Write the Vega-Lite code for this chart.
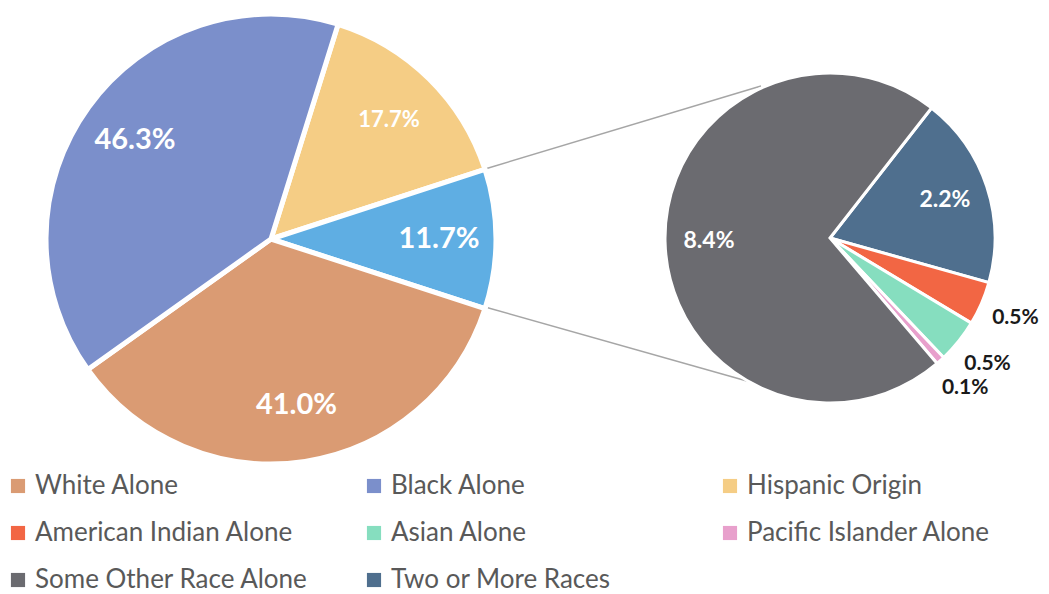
{
  "$schema": "https://vega.github.io/schema/vega-lite/v6.json",
  "width": 1049,
  "height": 594,
  "autosize": {"type": "none"},
  "padding": 0,
  "background": "white",
  "config": {"view": {"stroke": null}},
  "datasets": {
    "main": [
      {"cat": "Hispanic Origin", "v": 17.7, "label": "17.7%", "o": 1},
      {"cat": "Other Races", "v": 11.7, "label": "11.7%", "o": 2},
      {"cat": "White Alone", "v": 41.0, "label": "41.0%", "o": 3},
      {"cat": "Black Alone", "v": 46.3, "label": "46.3%", "o": 4}
    ],
    "detail": [
      {"cat": "Two or More Races", "v": 2.2, "label": "2.2%", "o": 1},
      {"cat": "American Indian Alone", "v": 0.5, "label": "0.5%", "o": 2},
      {"cat": "Asian Alone", "v": 0.5, "label": "0.5%", "o": 3},
      {"cat": "Pacific Islander Alone", "v": 0.1, "label": "0.1%", "o": 4},
      {"cat": "Some Other Race Alone", "v": 8.4, "label": "8.4%", "o": 5}
    ]
  },
  "layer": [
    {
      "data": {"values": [{"line": "top"}]},
      "mark": {"type": "rule", "color": "#A6A6A6", "strokeWidth": 1.5},
      "encoding": {
        "x": {"value": 485}, "y": {"value": 169},
        "x2": {"value": 761}, "y2": {"value": 86}
      }
    },
    {
      "data": {"values": [{"line": "bottom"}]},
      "mark": {"type": "rule", "color": "#A6A6A6", "strokeWidth": 1.5},
      "encoding": {
        "x": {"value": 485}, "y": {"value": 307},
        "x2": {"value": 761}, "y2": {"value": 385}
      }
    },
    {
      "data": {"name": "main"},
      "encoding": {
        "theta": {"field": "v", "type": "quantitative", "stack": true, "scale": {"range": [0.303, 6.586]}},
        "order": {"field": "o", "type": "quantitative"}
      },
      "layer": [
        {
          "mark": {"type": "arc", "outerRadius": 225, "x": 271, "y": 239, "stroke": "white", "strokeWidth": 5},
          "encoding": {
            "color": {
              "field": "cat", "type": "nominal", "legend": null,
              "scale": {
                "domain": ["Hispanic Origin", "Other Races", "White Alone", "Black Alone"],
                "range": ["#F5CD85", "#5FAEE3", "#DA9B73", "#7B8FCB"]
              }
            }
          }
        },
        {
          "mark": {"type": "text", "radius": 168, "x": 271, "y": 239, "font": "Lato", "fontWeight": "bold", "color": "white", "align": "center", "baseline": "middle"},
          "encoding": {
            "text": {"field": "label", "type": "nominal"},
            "size": {"condition": {"test": "datum.cat === 'Hispanic Origin'", "value": 22}, "value": 29}
          }
        }
      ]
    },
    {
      "data": {"name": "detail"},
      "encoding": {
        "theta": {"field": "v", "type": "quantitative", "stack": true, "scale": {"range": [0.663, 6.946]}},
        "order": {"field": "o", "type": "quantitative"}
      },
      "layer": [
        {
          "mark": {"type": "arc", "outerRadius": 165, "x": 830, "y": 238, "stroke": "white", "strokeWidth": 3},
          "encoding": {
            "color": {
              "field": "cat", "type": "nominal",
              "scale": {
                "domain": ["White Alone", "Black Alone", "Hispanic Origin", "American Indian Alone", "Asian Alone", "Pacific Islander Alone", "Some Other Race Alone", "Two or More Races"],
                "range": ["#DA9B73", "#7B8FCB", "#F5CD85", "#F26644", "#86DEBF", "#E8A0CC", "#6B6B70", "#4F6F8E"]
              },
              "legend": {
                "title": null,
                "orient": "none",
                "direction": "horizontal",
                "legendX": 5,
                "legendY": 473,
                "padding": 0,
                "columns": 3,
                "gridAlign": "all",
                "columnPadding": 52,
                "rowPadding": 21,
                "symbolType": "square",
                "symbolSize": 200,
                "symbolStrokeWidth": 0,
                "labelFont": "Lato",
                "labelFontSize": 26,
                "labelColor": "#595959",
                "labelOffset": 4,
                "labelLimit": 400
              }
            }
          }
        },
        {
          "mark": {"type": "text", "radius": 121, "x": 830, "y": 238, "font": "Lato", "fontWeight": "bold", "color": "white", "fontSize": 23, "align": "center", "baseline": "middle"},
          "encoding": {
            "text": {"condition": {"test": "datum.v >= 1", "field": "label"}, "value": ""}
          }
        },
        {
          "mark": {"type": "text", "radius": 202, "x": 830, "y": 238, "font": "Lato", "fontWeight": "bold", "color": "#1a1a1a", "fontSize": 21, "align": "center", "baseline": "middle"},
          "encoding": {
            "text": {"condition": {"test": "datum.v < 1", "field": "label"}, "value": ""}
          }
        }
      ]
    }
  ],
  "resolve": {"scale": {"theta": "independent", "color": "independent"}}
}
